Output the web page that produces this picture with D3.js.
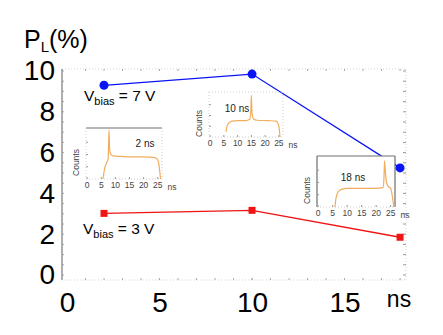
<!DOCTYPE html>
<html>
<head>
<meta charset="utf-8">
<script src="https://cdn.jsdelivr.net/npm/d3@7"></script>
<style>
  body { margin: 0; background: #fff; }
</style>
</head>
<body>
<svg id="chart"></svg>
<script>
// Data
const lifetimes = [2, 10, 18];          // ns
const pl7V = [9.3, 9.85, 5.25];         // P_L (%) at Vbias = 7 V
const pl3V = [3.02, 3.17, 1.85];        // P_L (%) at Vbias = 3 V
const yTicks = [0, 2, 4, 6, 8, 10];
const xTicks = [0, 5, 10, 15];
const insetTicks = [0, 5, 10, 15, 20, 25];

// inset traces: [time (ns), counts (normalised)]
const trace2ns = [[5.6, 0], [5.9, 0.12], [6.3, 0.24], [6.9, 0.33], [7.4, 0.4], [7.6, 0.7], [7.75, 1.0],
  [7.95, 0.62], [8.4, 0.5], [9.2, 0.47], [12, 0.46], [16, 0.45], [20, 0.45], [23.5, 0.44],
  [24.8, 0.41], [25.4, 0.3], [25.8, 0.1], [26, 0]];
const trace10ns = [[5.8, 0.12], [6.1, 0.24], [6.8, 0.32], [8, 0.37], [10, 0.38], [13, 0.38],
  [14.4, 0.41], [14.8, 0.6], [15, 0.97], [15.25, 0.55], [15.8, 0.42], [17, 0.39], [21, 0.38],
  [24, 0.37], [24.8, 0.3], [25.2, 0.15], [25.4, 0]];
const trace18ns = [[5.8, 0], [6.1, 0.16], [6.8, 0.3], [8, 0.36], [10, 0.38], [15, 0.38], [20, 0.38],
  [22.4, 0.4], [22.7, 0.6], [22.9, 0.94], [23.2, 0.7], [23.6, 0.5], [24.2, 0.42], [25, 0.38],
  [25.5, 0.25], [25.9, 0.08], [26.1, 0]];

const width = 443, height = 335;
const font = "'Liberation Sans', Arial, sans-serif";
const blue = "#0a14f5", red = "#f01414", orange = "#f2ad5c";

const svg = d3.select("#chart")
  .attr("width", width)
  .attr("height", height)
  .style("font-family", font);

svg.append("rect").attr("width", width).attr("height", height).attr("fill", "#fff");

// plot frame
const plotL = 62, plotR = 406, plotT = 69, plotB = 280;

const x = d3.scaleLinear().domain([-0.27, 18.32]).range([plotL, plotR]);
const y = d3.scaleLinear().domain([0, 10]).range([275, 71]);

// dotted frame (top, right, bottom)
const frame = svg.append("g").attr("stroke", "#d4d4d4").attr("stroke-dasharray", "1,2").attr("fill", "none");
frame.append("line").attr("x1", plotL).attr("x2", plotR).attr("y1", plotT).attr("y2", plotT);
frame.append("line").attr("x1", plotR).attr("x2", plotR).attr("y1", plotT).attr("y2", plotB);
frame.append("line").attr("x1", plotL).attr("x2", plotR).attr("y1", plotB).attr("y2", plotB);

// small tick marks
const minorX = d3.range(1, 19);
svg.append("g").selectAll("line").data(minorX).enter().append("line")
  .attr("x1", d => x(d)).attr("x2", d => x(d))
  .attr("y1", plotB - 2).attr("y2", plotB)
  .attr("stroke", d => d === 10 ? "#888" : "#aaa");
svg.append("g").selectAll("line").data(minorX).enter().append("line")
  .attr("x1", d => x(d)).attr("x2", d => x(d))
  .attr("y1", plotT).attr("y2", plotT + 2)
  .attr("stroke", "#aaa");
svg.append("g").selectAll("line").data(d3.range(0, 10.5, 0.5)).enter().append("line")
  .attr("x1", plotR - 3).attr("x2", plotR)
  .attr("y1", d => y(d)).attr("y2", d => y(d))
  .attr("stroke", "#999");
svg.append("g").selectAll("line").data(d3.range(0, 10.5, 0.5)).enter().append("line")
  .attr("x1", plotL).attr("x2", plotL + 2)
  .attr("y1", d => y(d)).attr("y2", d => y(d))
  .attr("stroke", "#aaa");

// left axis line
svg.append("line")
  .attr("x1", plotL).attr("x2", plotL).attr("y1", plotT).attr("y2", plotB)
  .attr("stroke", "#9a9a9a").attr("stroke-width", 1.6);

// y axis labels
const yAxis = svg.append("g")
  .attr("transform", `translate(${plotL},0)`)
  .call(d3.axisLeft(y).tickValues(yTicks).tickSize(0).tickPadding(7));
yAxis.select(".domain").remove();
yAxis.selectAll("text").attr("font-size", 28).attr("font-family", font).attr("fill", "#000");

// x axis labels
const xAxis = svg.append("g")
  .attr("transform", `translate(0,${plotB})`)
  .call(d3.axisBottom(x).tickValues(xTicks).tickSize(0).tickPadding(12));
xAxis.select(".domain").remove();
xAxis.selectAll("text").attr("font-size", 28).attr("font-family", font).attr("fill", "#000");

svg.append("text")
  .attr("x", 399).attr("y", 307)
  .attr("text-anchor", "middle")
  .attr("font-size", 23)
  .text("ns");

// y title P_L(%)
const yTitle = svg.append("text").attr("x", 24).attr("y", 48).attr("font-size", 25);
yTitle.append("tspan").text("P");
yTitle.append("tspan").attr("font-size", 15).attr("dy", 4).text("L");
yTitle.append("tspan").attr("dy", -4).text("(%)");

// series
const line = d3.line().x(d => x(d[0])).y(d => y(d[1]));
const s7 = lifetimes.map((t, i) => [t, pl7V[i]]);
const s3 = lifetimes.map((t, i) => [t, pl3V[i]]);

svg.append("path").datum(s7).attr("d", line)
  .attr("fill", "none").attr("stroke", blue).attr("stroke-width", 1.3);
svg.append("path").datum(s3).attr("d", line)
  .attr("fill", "none").attr("stroke", red).attr("stroke-width", 1.3);

// insets (boxes drawn over the lines)
const insetLayout = [
  { trace: trace2ns, label: "2 ns", l: 86, r: 162, t: 128, b: 179, lx: 59, ly: 19, solid: ["top"], bg: true },
  { trace: trace10ns, label: "10 ns", l: 209, r: 283, t: 92, b: 137, lx: 28, ly: 20, solid: [], bg: false },
  { trace: trace18ns, label: "18 ns", l: 317, r: 395, t: 156, b: 207, lx: 36, ly: 25, solid: ["top", "left", "right"], bg: true }
];

insetLayout.forEach(ins => {
  const g = svg.append("g");
  const ix = d3.scaleLinear().domain([-0.4, 26.5]).range([ins.l, ins.r]);
  const iy = d3.scaleLinear().domain([0, 1]).range([ins.b, ins.t + 2]);

  if (ins.bg) {
    g.append("rect")
      .attr("x", ins.l).attr("y", ins.t)
      .attr("width", ins.r - ins.l).attr("height", ins.b - ins.t)
      .attr("fill", "#fff");
  }

  const edges = {
    top: [ins.l, ins.t, ins.r, ins.t],
    left: [ins.l, ins.t, ins.l, ins.b],
    right: [ins.r, ins.t, ins.r, ins.b],
    bottom: [ins.l, ins.b, ins.r, ins.b]
  };
  Object.entries(edges).forEach(([k, e]) => {
    const solid = ins.solid.includes(k);
    g.append("line")
      .attr("x1", e[0]).attr("y1", e[1]).attr("x2", e[2]).attr("y2", e[3])
      .attr("stroke", solid ? "#6e6e6e" : "#cfcfcf")
      .attr("stroke-width", solid ? 1.2 : 1)
      .attr("stroke-dasharray", solid ? null : "1,2");
  });

  // tiny ticks
  g.append("g").selectAll("line").data(insetTicks).enter().append("line")
    .attr("x1", d => ix(d)).attr("x2", d => ix(d))
    .attr("y1", ins.b - 2).attr("y2", ins.b)
    .attr("stroke", "#999");
  g.append("g").selectAll("line").data([0.25, 0.5, 0.75]).enter().append("line")
    .attr("x1", ins.l).attr("x2", ins.l + 2)
    .attr("y1", d => iy(d)).attr("y2", d => iy(d))
    .attr("stroke", "#999");

  g.append("g").selectAll("text").data(insetTicks).enter().append("text")
    .attr("x", d => ix(d)).attr("y", ins.b + 9)
    .attr("text-anchor", "middle")
    .attr("font-size", 8.5).attr("fill", "#444")
    .text(d => d);

  g.append("text")
    .attr("x", ins.r + 10).attr("y", ins.b + 11)
    .attr("text-anchor", "middle")
    .attr("font-size", 8.5).attr("fill", "#444")
    .text("ns");

  g.append("text")
    .attr("transform", `translate(${ins.l - 7},${(ins.t + ins.b) / 2 + 9}) rotate(-90)`)
    .attr("text-anchor", "middle")
    .attr("font-size", 8.5).attr("fill", "#444")
    .text("Counts");

  g.append("path").datum(ins.trace)
    .attr("d", d3.line().x(d => ix(d[0])).y(d => iy(d[1])).curve(d3.curveMonotoneX))
    .attr("fill", "none").attr("stroke", orange).attr("stroke-width", 1.2);

  g.append("text")
    .attr("x", ins.l + ins.lx).attr("y", ins.t + ins.ly)
    .attr("text-anchor", "middle")
    .attr("font-size", 10).attr("fill", "#222")
    .text(ins.label);
});

// markers
svg.append("g").selectAll("circle").data(s7).enter().append("circle")
  .attr("cx", d => x(d[0])).attr("cy", d => y(d[1])).attr("r", 4.5)
  .attr("fill", blue);
svg.append("g").selectAll("rect").data(s3).enter().append("rect")
  .attr("x", d => x(d[0]) - 3.5).attr("y", d => y(d[1]) - 3.5)
  .attr("width", 7).attr("height", 7)
  .attr("fill", red);

// Vbias annotations
function biasLabel(px, py, volts) {
  const t = svg.append("text").attr("x", px).attr("y", py).attr("font-size", 15.5);
  t.append("tspan").text("V");
  t.append("tspan").attr("font-size", 11).attr("dy", 4).text("bias");
  t.append("tspan").attr("dy", -4).text(` = ${volts} V`);
}
biasLabel(84, 101, 7);
biasLabel(83, 234, 3);
</script>
</body>
</html>
